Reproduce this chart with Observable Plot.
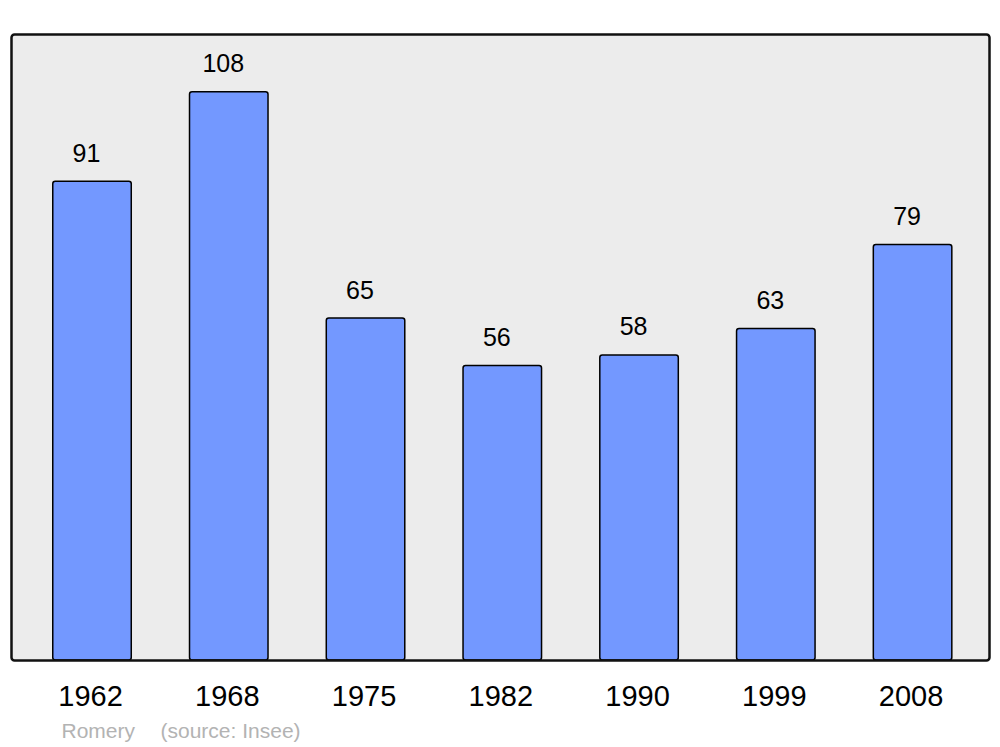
<!DOCTYPE html>
<html>
<head>
<meta charset="utf-8">
<script src="https://cdn.jsdelivr.net/npm/d3@7"></script>
<script src="https://cdn.jsdelivr.net/npm/@observablehq/plot@0.6"></script>
<style>
  html, body { margin: 0; padding: 0; background: #fff; }
  #chart { width: 1000px; height: 747px; }
</style>
</head>
<body>
<div id="chart"></div>
<script>
const years = ["1962", "1968", "1975", "1982", "1990", "1999", "2008"];
const population = [91, 108, 65, 56, 58, 63, 79];
const commune = "Romery";
const source = "(source: Insee)";

const data = years.map((y, i) => ({year: y, value: population[i]}));

const chart = Plot.plot({
  width: 1000,
  height: 747,
  marginLeft: 11,
  marginRight: 11,
  marginTop: 34,
  marginBottom: 87,
  style: {fontFamily: "'Liberation Sans', Arial, sans-serif", background: "#ffffff"},
  x: {domain: years, paddingInner: 0.426, paddingOuter: 0.2886, align: 0.529, round: false, label: null},
  y: {domain: [0, 119], axis: null},
  marks: [
    Plot.frame({fill: "#ececec", stroke: "none", rx: 3}),
    Plot.barY(data, {x: "year", y: "value", fill: "#7398ff", stroke: "#000", strokeWidth: 1.5, rx: 2.5}),
    Plot.text(data, {x: "year", y: "value", text: d => String(d.value), dx: -6, dy: -28, fontSize: 25, fill: "#000"}),
    Plot.frame({stroke: "#111", strokeWidth: 2.5, rx: 3, fill: "none"}),
    Plot.axisX({tickSize: 0, tickPadding: 25, dx: -2, fontSize: 29, color: "#000", label: null}),
    Plot.text([commune], {frameAnchor: "bottom-left", dx: 50, dy: 77, text: d => d, fontSize: 21, fill: "#b3b3b3", textAnchor: "start", lineAnchor: "bottom"}),
    Plot.text([source], {frameAnchor: "bottom-left", dx: 149, dy: 77, text: d => d, fontSize: 21, fill: "#b3b3b3", textAnchor: "start", lineAnchor: "bottom"})
  ]
});
document.getElementById("chart").appendChild(chart);
</script>
</body>
</html>
